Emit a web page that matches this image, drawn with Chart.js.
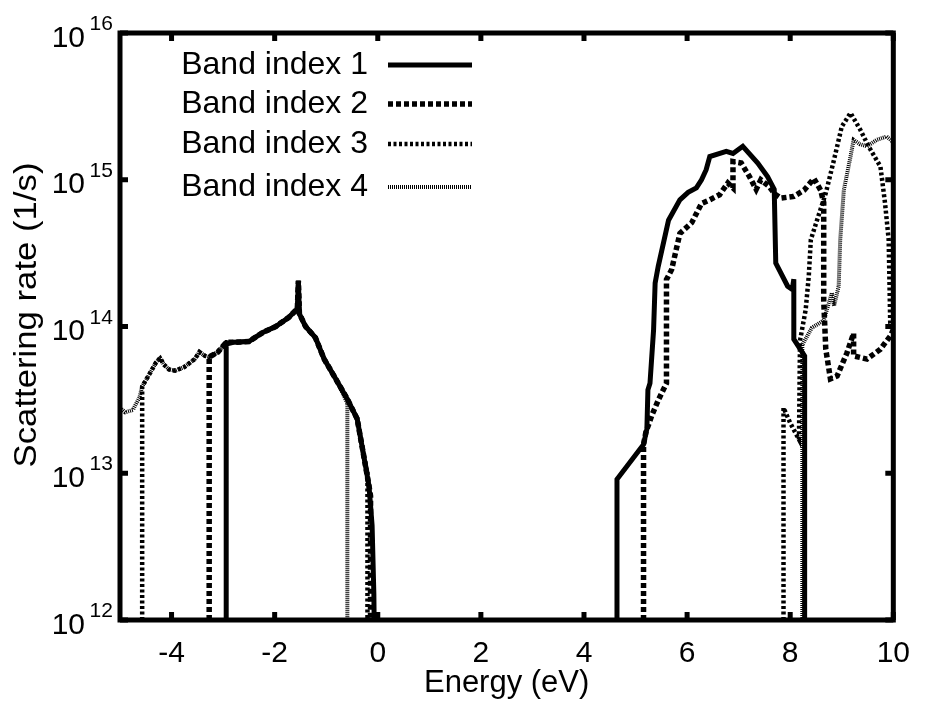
<!DOCTYPE html>
<html><head><meta charset="utf-8">
<script src="https://cdn.jsdelivr.net/npm/chart.js@4.4.1/dist/chart.umd.min.js"></script>
<style>html,body{margin:0;padding:0;background:#fff}#wrap{width:926px;height:704px}</style>
</head><body><div id="wrap"><canvas id="c" width="926" height="704"></canvas></div>
<script>
// ---------- DATA ----------
const seriesNames = ['Band index 1', 'Band index 2', 'Band index 3', 'Band index 4'];

// null marks a break between the valence (left) and conduction (right) parts
const band1Energy = [-2.94,-2.94,-2.80,-2.50,-2.23,-1.98,-1.73,-1.56,-1.54,-1.52,-1.40,-1.21,-1.04,-0.80,-0.59,-0.40,-0.27,-0.17,-0.11,-0.076,-0.07,
  null,
  4.64,4.64,5.155,5.22,5.24,5.28,5.35,5.38,5.44,5.64,5.86,6.02,6.18,6.28,6.37,6.44,6.76,6.89,7.08,7.37,7.56,7.69,7.72,7.95,8.04,8.07,8.07,8.28,8.28];
const band1Rate = [1e12,7.6e13,7.8e13,7.9e13,9.1e13,1.0e14,1.15e14,1.32e14,2.05e14,1.22e14,1.0e14,8.4e13,6.0e13,4.3e13,3.2e13,2.35e13,1.3e13,8.2e12,4.4e12,1.5e12,1e12,
  null,
  1e12,9.1e12,1.57e13,2.0e13,3.7e13,4.1e13,9.5e13,1.98e14,2.57e14,5.3e14,7.3e14,8.2e14,8.8e14,1.0e15,1.17e15,1.44e15,1.56e15,1.51e15,1.69e15,1.30e15,1.05e15,8.6e14,2.7e14,1.88e14,1.79e14,2.1e14,8.2e13,6.3e13,1e12];

const band2Energy = [-3.27,-3.27,-3.10,-2.94,-2.80,-2.50,-2.23,-1.98,-1.73,-1.56,-1.54,-1.52,-1.40,-1.21,-1.04,-0.80,-0.59,-0.40,-0.27,-0.17,-0.14,-0.14,
  null,
  5.155,5.155,5.20,5.32,5.45,5.60,5.60,5.70,5.86,6.09,6.28,6.44,6.63,6.79,6.89,6.89,7.05,7.21,7.34,7.43,7.59,7.70,7.82,8.07,8.27,8.46,8.59,8.65,8.65,8.69,8.78,8.91,9.10,9.23,9.23,9.49,9.75,9.94,10.0];
const band2Rate = [1e12,6.2e13,6.7e13,7.8e13,7.8e13,7.9e13,9.1e13,1.0e14,1.15e14,1.32e14,2.05e14,1.22e14,1.0e14,8.4e13,6.0e13,4.3e13,3.2e13,2.35e13,1.3e13,8.2e12,7.0e12,1e12,
  null,
  1e12,1.57e13,1.9e13,2.5e13,3.2e13,4.1e13,2.09e14,2.44e14,4.3e14,5.1e14,6.9e14,7.3e14,7.9e14,9.5e14,8.8e14,1.33e15,1.3e15,1.05e15,8.6e14,1.0e15,9.0e14,8.0e14,7.5e14,7.7e14,8.5e14,1.02e15,8.5e14,7.0e14,1.5e14,7.0e13,4.4e13,4.6e13,6.6e13,9.0e13,6.3e13,6.0e13,7.0e13,8.6e13,9.5e13];

const band3Energy = [-4.57,-4.57,-4.45,-4.30,-4.22,-4.15,-4.05,-3.93,-3.75,-3.55,-3.46,-3.35,-3.27,-3.10,-2.94,-2.80,-2.50,-2.23,-1.98,-1.73,-1.56,-1.54,-1.52,-1.40,-1.21,-1.04,-0.80,-0.59,-0.40,-0.27,-0.20,-0.20,
  null,
  7.87,7.87,8.00,8.17,8.19,8.30,8.36,8.40,8.52,8.69,8.85,9.00,9.17,9.36,9.52,9.75,9.84,9.91,9.94,10.0];
const band3Rate = [1e12,3.9e13,4.6e13,5.7e13,6.1e13,5.5e13,5.1e13,5.0e13,5.3e13,6.0e13,6.7e13,6.3e13,6.2e13,6.7e13,7.8e13,7.8e13,7.9e13,9.1e13,1.0e14,1.15e14,1.32e14,2.05e14,1.22e14,1.0e14,8.4e13,6.0e13,4.3e13,3.2e13,2.35e13,1.3e13,1.0e13,1e12,
  null,
  1e12,2.8e13,2.2e13,1.7e13,8.0e13,1.3e14,2.2e14,3.9e14,5.3e14,8.1e14,1.37e15,2.3e15,2.85e15,2.19e15,1.69e15,1.23e15,6.9e14,3.9e14,1.06e14,9.0e13];

const band4Energy = [-5.0,-4.90,-4.75,-4.62,-4.57,-4.45,-4.30,-4.22,-4.15,-4.05,-3.93,-3.75,-3.55,-3.46,-3.35,-3.27,-3.10,-2.94,-2.80,-2.50,-2.23,-1.98,-1.73,-1.56,-1.54,-1.52,-1.40,-1.21,-1.04,-0.80,-0.59,-0.59,
  null,
  8.235,8.235,8.42,8.65,8.81,8.85,8.94,8.97,9.04,9.17,9.23,9.35,9.49,9.68,9.87,10.0];
const band4Rate = [2.8e13,2.6e13,2.7e13,3.3e13,3.9e13,4.6e13,5.7e13,6.1e13,5.5e13,5.1e13,5.0e13,5.3e13,6.0e13,6.7e13,6.3e13,6.2e13,6.7e13,7.8e13,7.8e13,7.9e13,9.1e13,1.0e14,1.15e14,1.32e14,2.05e14,1.22e14,1.0e14,8.4e13,6.0e13,4.3e13,3.0e13,1e12,
  null,
  1e12,7.5e13,9.8e13,1.1e14,1.7e14,1.38e14,1.88e14,3.9e14,8.5e14,1.44e15,1.87e15,1.75e15,1.69e15,1.87e15,1.97e15,1.8e15];

const xTickValues = [-4, -2, 0, 2, 4, 6, 8, 10];
const yTickExponents = [12, 13, 14, 15, 16];
const xAxisTitle = 'Energy (eV)';
const yAxisTitle = 'Scattering rate (1/s)';

// ---------- CHART ----------
const FONT = "'Liberation Sans', Arial, Helvetica, sans-serif";
Chart.defaults.font.family = FONT;
Chart.defaults.color = '#000';

function pts(ex, ry) { return ex.map((e, i) => ({ x: e, y: ry[i] })); }

const styles = [
  { borderWidth: 5, borderDash: [] },
  { borderWidth: 5.5, borderDash: [5, 3] },
  { borderWidth: 4.5, borderDash: [3, 2.5] },
  { borderWidth: 4, borderDash: [1, 1] }
];
const energies = [band1Energy, band2Energy, band3Energy, band4Energy];
const rates = [band1Rate, band2Rate, band3Rate, band4Rate];

const datasets = seriesNames.map((name, i) => ({
  label: name,
  data: pts(energies[i], rates[i]),
  borderColor: '#000',
  backgroundColor: '#000',
  borderWidth: styles[i].borderWidth,
  borderDash: styles[i].borderDash,
  borderCapStyle: 'butt',
  borderJoinStyle: 'miter',
  pointRadius: 0,
  tension: 0,
  fill: false,
  spanGaps: false
}));

const CA = { left: 120, right: 900, top: 33, bottom: 620 };

const framePlugin = {
  id: 'frame',
  afterDatasetsDraw(chart) {
    const { ctx, chartArea: a, scales } = chart;
    const xs = scales.x, ys = scales.y;
    ctx.save();
    ctx.strokeStyle = '#000';
    ctx.setLineDash([]);
    // inward ticks
    ctx.lineWidth = 5;
    ctx.lineCap = 'butt';
    const tl = 8;
    xTickValues.forEach(v => {
      const px = xs.getPixelForValue(v);
      ctx.beginPath();
      ctx.moveTo(px, a.bottom); ctx.lineTo(px, a.bottom - tl);
      ctx.moveTo(px, a.top); ctx.lineTo(px, a.top + tl);
      ctx.stroke();
    });
    yTickExponents.forEach(e => {
      const py = ys.getPixelForValue(Math.pow(10, e));
      ctx.beginPath();
      ctx.moveTo(a.left, py); ctx.lineTo(a.left + tl, py);
      ctx.moveTo(a.right, py); ctx.lineTo(a.right - tl, py);
      ctx.stroke();
    });
    // frame
    ctx.lineWidth = 5;
    ctx.strokeRect(a.left, a.top, a.right - a.left, a.bottom - a.top);

    // y tick labels 10^n
    ctx.fillStyle = '#000';
    ctx.textBaseline = 'alphabetic';
    yTickExponents.forEach(e => {
      const py = ys.getPixelForValue(Math.pow(10, e));
      ctx.font = '30px ' + FONT;
      ctx.textAlign = 'right';
      ctx.fillText('10', 85, py + 13.5);
      ctx.font = '21px ' + FONT;
      ctx.textAlign = 'left';
      ctx.fillText(String(e), 89.5, py - 3);
    });

    // y axis title (slightly stretched along its length like the reference)
    ctx.save();
    ctx.translate(27, 315);
    ctx.rotate(-Math.PI / 2);
    ctx.scale(1.12, 1);
    ctx.font = '31px ' + FONT;
    ctx.textAlign = 'center';
    ctx.textBaseline = 'middle';
    ctx.fillText(yAxisTitle, 0, 0);
    ctx.restore();

    // legend (text right, line sample left -> right)
    const rowY = [64, 103, 143, 186];
    chart.data.datasets.forEach((ds, i) => {
      const y = rowY[i];
      ctx.font = '32px ' + FONT;
      ctx.textAlign = 'right';
      ctx.textBaseline = 'middle';
      ctx.fillStyle = '#000';
      ctx.fillText(ds.label, 368, y + 1);
      ctx.beginPath();
      ctx.lineWidth = ds.borderWidth;
      ctx.setLineDash(ds.borderDash || []);
      ctx.moveTo(388, y + 1);
      ctx.lineTo(472, y + 1);
      ctx.stroke();
    });
    ctx.restore();
  }
};

new Chart(document.getElementById('c'), {
  type: 'line',
  data: { datasets },
  plugins: [framePlugin],
  options: {
    responsive: false,
    animation: false,
    devicePixelRatio: 1,
    layout: { padding: { left: 0, right: 926 - CA.right, top: CA.top, bottom: 0 } },
    plugins: { legend: { display: false }, tooltip: { enabled: false } },
    scales: {
      x: {
        type: 'linear',
        min: -5, max: 10,
        afterBuildTicks: s => { s.ticks = xTickValues.map(v => ({ value: v })); },
        afterFit: s => { s.height = 704 - CA.bottom; },
        grid: { display: false, drawTicks: false },
        border: { display: false },
        ticks: { font: { size: 30 }, color: '#000', padding: 16, maxRotation: 0, autoSkip: false },
        title: { display: true, text: xAxisTitle, font: { size: 31 }, color: '#000', padding: { top: 0, bottom: 2 } }
      },
      y: {
        type: 'logarithmic',
        min: 1e12, max: 1e16,
        afterBuildTicks: s => { s.ticks = yTickExponents.map(e => ({ value: Math.pow(10, e) })); },
        afterFit: s => { s.width = CA.left; },
        grid: { display: false, drawTicks: false },
        border: { display: false },
        ticks: { display: false },
        title: { display: false, text: yAxisTitle }
      }
    }
  }
});
</script>
</body></html>
